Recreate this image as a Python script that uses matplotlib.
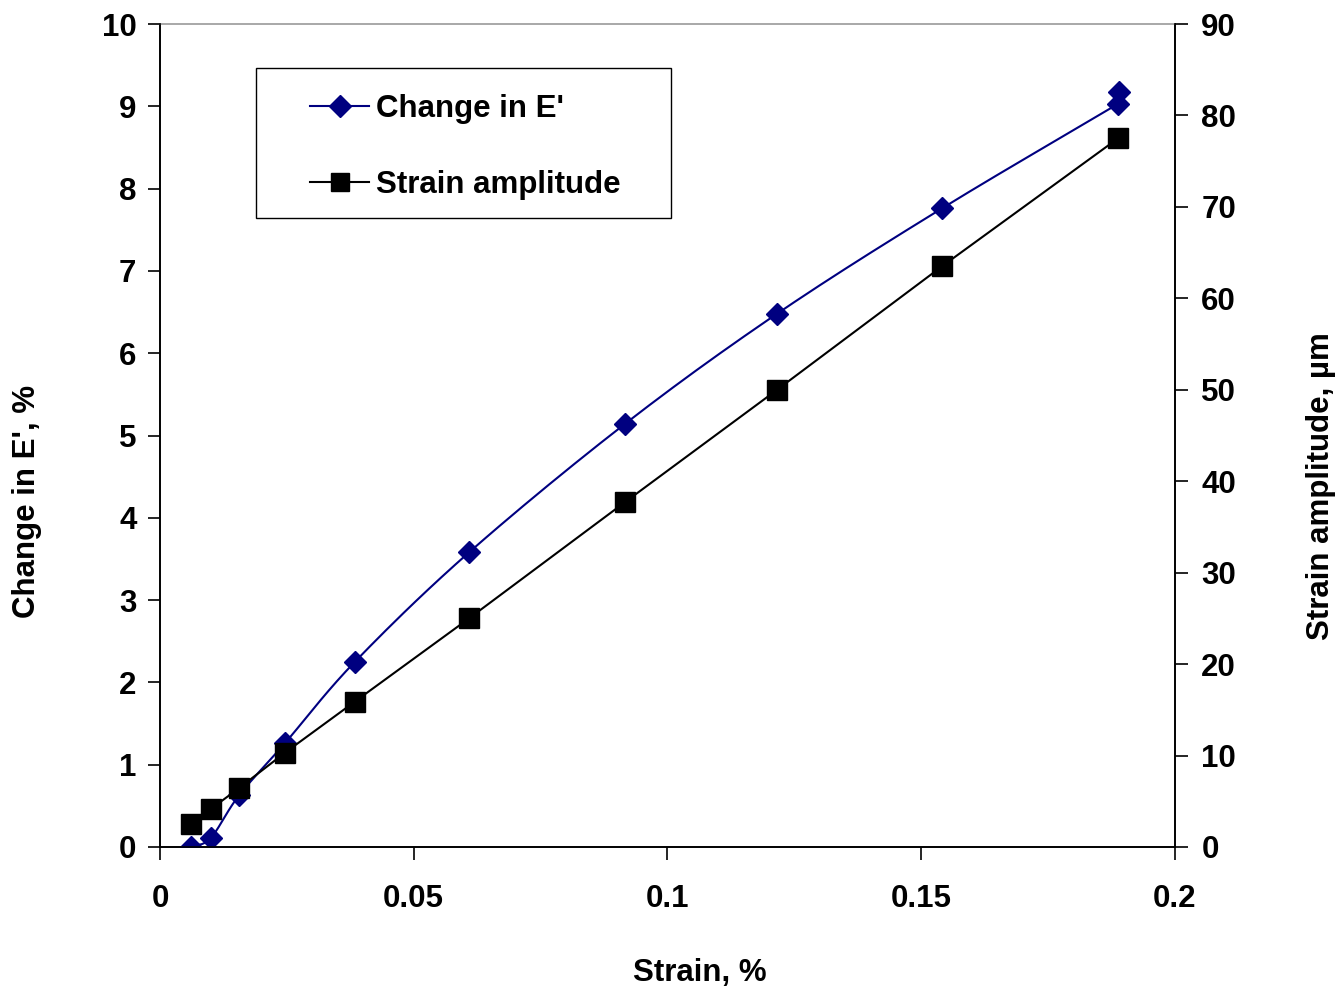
import numpy as np
import matplotlib
matplotlib.use("Agg")
import matplotlib.pyplot as plt
from matplotlib.lines import Line2D
from matplotlib.patches import Rectangle

plt.rcParams['font.family'] = ['Liberation Sans', 'DejaVu Sans']
plt.rcParams['font.weight'] = 'bold'

# data
strain = [0.0061, 0.0100, 0.0156, 0.0246, 0.0384, 0.0609, 0.0916, 0.1216, 0.1541, 0.1888]
change_e = [0.0, 0.11, 0.63, 1.26, 2.25, 3.58, 5.14, 6.48, 7.76, 9.03]
extra_strain = [0.1890]
extra_change = [9.17]
amplitude = [2.5, 4.15, 6.45, 10.3, 15.9, 25.0, 37.7, 50.0, 63.5, 77.5]


def smooth(x, y, n=20):
    # Catmull-Rom style smoothing, like Excel's smoothed line
    x = np.asarray(x, float)
    y = np.asarray(y, float)
    px = np.concatenate([[2 * x[0] - x[1]], x, [2 * x[-1] - x[-2]]])
    py = np.concatenate([[2 * y[0] - y[1]], y, [2 * y[-1] - y[-2]]])
    xs, ys = [], []
    t = np.linspace(0, 1, n)
    for i in range(1, len(px) - 2):
        p0, p1, p2, p3 = px[i - 1], px[i], px[i + 1], px[i + 2]
        q0, q1, q2, q3 = py[i - 1], py[i], py[i + 1], py[i + 2]
        c1x, c1y = p1 + (p2 - p0) / 6, q1 + (q2 - q0) / 6
        c2x, c2y = p2 - (p3 - p1) / 6, q2 - (q3 - q1) / 6
        bx = (1 - t) ** 3 * p1 + 3 * (1 - t) ** 2 * t * c1x + 3 * (1 - t) * t ** 2 * c2x + t ** 3 * p2
        by = (1 - t) ** 3 * q1 + 3 * (1 - t) ** 2 * t * c1y + 3 * (1 - t) * t ** 2 * c2y + t ** 3 * q2
        xs.extend(bx)
        ys.extend(by)
    return xs, ys


fig = plt.figure(figsize=(13.38, 9.89), dpi=100)
ax = fig.add_axes([0.1196, 0.1436, 0.7585, 0.8321])
ax2 = ax.twinx()

blue = '#000080'
sx, sy = smooth(strain, change_e)
ax.plot(sx, sy, color=blue, lw=1.5, zorder=3)
ax.plot(strain, change_e, 'D', color=blue, ms=11, zorder=4)
ax.plot(extra_strain, extra_change, 'D', color=blue, ms=11, zorder=4)

ax2.plot(strain, amplitude, color='black', lw=1.5, marker='s', ms=14)

ax.set_xlim(0, 0.2)
ax.set_ylim(0, 10)
ax2.set_ylim(0, 90)
ax.set_xticks([0, 0.05, 0.1, 0.15, 0.2])
ax.set_xticklabels(['0', '0.05', '0.1', '0.15', '0.2'])
ax.set_yticks(range(0, 11))
ax2.set_yticks(range(0, 91, 10))

fs = 22.5
for a in (ax, ax2):
    a.tick_params(labelsize=fs, length=9, width=1.2, direction='out', pad=8)
    for s in a.spines.values():
        s.set_linewidth(1.2)
ax.tick_params(axis='x', pad=18)
ax2.tick_params(axis='y', pad=10)
ax.spines['top'].set_color('#999999')
ax2.spines['top'].set_visible(False)

ax.set_xlabel('Strain, %', fontsize=fs, fontweight='bold')
ax.set_ylabel("Change in E', %", fontsize=fs, fontweight='bold')
ax2.set_ylabel('Strain amplitude, µm', fontsize=fs, fontweight='bold')
ax.xaxis.set_label_coords(0.532, -0.135)
ax.yaxis.set_label_coords(-0.116, 0.42)
ax2.yaxis.set_label_coords(1.129, 0.439)

# legend box
ax.add_patch(Rectangle((0.0946, 0.7643), 0.4088, 0.1822, transform=ax.transAxes,
                       fill=True, facecolor='white', edgecolor='black', lw=1.0, zorder=5))
handles = [
    Line2D([], [], color=blue, lw=1.5, marker='D', ms=11),
    Line2D([], [], color='black', lw=1.5, marker='s', ms=13),
]
leg = ax.legend(handles, ["Change in E'", 'Strain amplitude'],
                loc='center left', bbox_to_anchor=(0.1478, 0.8505),
                fontsize=fs, frameon=False,
                handlelength=1.9, labelspacing=1.45, borderpad=0,
                borderaxespad=0, handletextpad=0.2)
leg.set_zorder(6)
for t in leg.get_texts():
    t.set_fontweight('bold')

fig.savefig('out.png', dpi=100)
